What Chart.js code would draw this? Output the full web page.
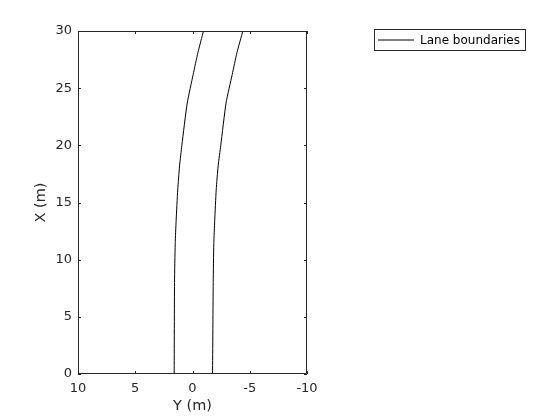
<!DOCTYPE html>
<html>
<head>
<meta charset="utf-8">
<script src="https://cdn.jsdelivr.net/npm/chart.js@4/dist/chart.umd.min.js"></script>
<style>
  html, body { margin: 0; padding: 0; background: #fff; }
  #wrap { width: 560px; height: 420px; }
</style>
</head>
<body>
<div id="wrap"><canvas id="laneChart" width="560" height="420"></canvas></div>
<script>
// lane boundary samples: X = distance ahead (m), Y = lateral offset (m)
const laneX   = [0, 8.0, 11.4, 13.4, 16.1, 18.2, 20.0, 23.7, 26.2, 28.1, 30];
const leftY   = [1.6, 1.57, 1.51, 1.43, 1.29, 1.13, 0.93, 0.46, -0.06, -0.47, -0.96];
const rightY  = [-1.75, -1.81, -1.86, -1.94, -2.07, -2.24, -2.47, -2.93, -3.47, -3.88, -4.4];
const yTicks  = [-10, -5, 0, 5, 10];
const xTicks  = [0, 5, 10, 15, 20, 25, 30];
const legendLabel = 'Lane boundaries';

const axisColor = '#262626';
const fontFamily = '"DejaVu Sans", sans-serif';

const toPoints = (ys) => laneX.map((x, i) => ({ x: ys[i], y: x }));

// box + inward ticks on all four sides, MATLAB style
const boxPlugin = {
    id: 'boxTicks',
    afterDraw(chart) {
        const { ctx, chartArea: a, scales } = chart;
        const tl = 3;
        ctx.save();
        ctx.strokeStyle = axisColor;
        ctx.lineWidth = 1;
        ctx.beginPath();
        ctx.rect(a.left + 0.5, a.top + 0.5, a.right - a.left - 1, a.bottom - a.top - 1);
        yTicks.forEach(v => {
            const px = Math.round(scales.x.getPixelForValue(v)) + 0.5;
            ctx.moveTo(px, a.bottom); ctx.lineTo(px, a.bottom - tl);
            ctx.moveTo(px, a.top); ctx.lineTo(px, a.top + tl);
        });
        xTicks.forEach(v => {
            const py = Math.round(scales.y.getPixelForValue(v)) + 0.5;
            ctx.moveTo(a.left, py); ctx.lineTo(a.left + tl, py);
            ctx.moveTo(a.right, py); ctx.lineTo(a.right - tl, py);
        });
        ctx.stroke();

        // legend box
        const lx = 374.5, ly = 29.5, lw = 151, lh = 21;
        ctx.fillStyle = '#fff';
        ctx.fillRect(lx, ly, lw, lh);
        ctx.strokeRect(lx, ly, lw, lh);
        ctx.strokeStyle = '#000';
        ctx.beginPath();
        ctx.moveTo(378, ly + lh / 2); ctx.lineTo(414, ly + lh / 2);
        ctx.stroke();
        ctx.fillStyle = '#000';
        ctx.font = '12px ' + fontFamily;
        ctx.textBaseline = 'middle';
        ctx.textAlign = 'left';
        ctx.fillText(legendLabel, 420, ly + lh / 2 + 0.5);
        ctx.restore();
    }
};

try {
    new Chart(document.getElementById('laneChart'), {
        type: 'scatter',
        data: {
            datasets: [
                { label: legendLabel, data: toPoints(leftY), showLine: true, borderColor: '#000',
                  borderWidth: 1, pointRadius: 0, tension: 0.2 },
                { label: legendLabel, data: toPoints(rightY), showLine: true, borderColor: '#000',
                  borderWidth: 1, pointRadius: 0, tension: 0.2 }
            ]
        },
        options: {
            responsive: false,
            animation: false,
            layout: { padding: { left: 0, right: 253, top: 31, bottom: 0 } },
            plugins: { legend: { display: false }, tooltip: { enabled: false } },
            scales: {
                x: {
                    type: 'linear', reverse: true, min: -10, max: 10,
                    afterBuildTicks: (s) => { s.ticks = yTicks.map(v => ({ value: v })); },
                    afterFit: (s) => { s.height = 46; },
                    grid: { display: false, drawTicks: false },
                    border: { display: false },
                    ticks: { color: axisColor, padding: 7, font: { family: fontFamily, size: 13 } },
                    title: { display: true, text: 'Y (m)', color: axisColor,
                             font: { family: fontFamily, size: 14.5 }, padding: { top: 0, bottom: 5 } }
                },
                y: {
                    type: 'linear', min: 0, max: 30,
                    afterBuildTicks: (s) => { s.ticks = xTicks.map(v => ({ value: v })); },
                    afterFit: (s) => { s.width = 78; },
                    grid: { display: false, drawTicks: false },
                    border: { display: false },
                    ticks: { color: axisColor, padding: 6, font: { family: fontFamily, size: 13 } },
                    title: { display: true, text: 'X (m)', color: axisColor,
                             font: { family: fontFamily, size: 14.5 }, padding: { top: 33, bottom: 0 } }
                }
            }
        },
        plugins: [boxPlugin]
    });
} catch (e) { console.error("Crash in laneChart", e); }
</script>
</body>
</html>
